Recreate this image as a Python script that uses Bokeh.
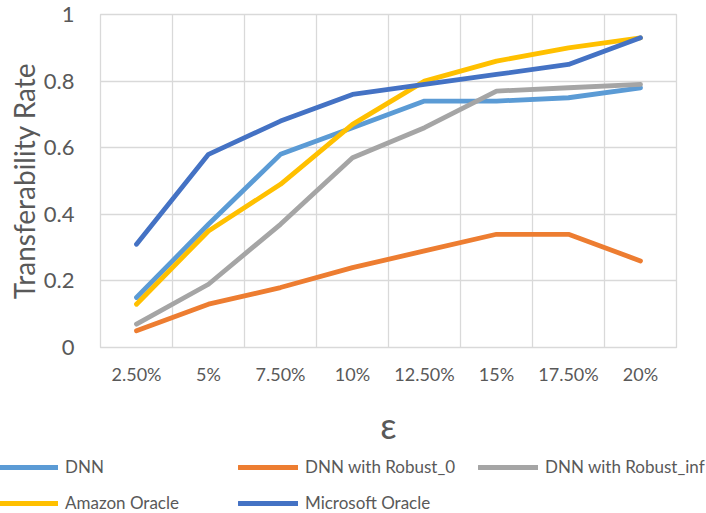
from bokeh.plotting import figure
from bokeh.models import Range1d, FixedTicker, NumeralTickFormatter, Legend, LegendItem
from bokeh.embed import file_html
from bokeh.resources import INLINE

categories = ["2.50%", "5%", "7.50%", "10%", "12.50%", "15%", "17.50%", "20%"]
dnn = [0.15, 0.37, 0.58, 0.66, 0.74, 0.74, 0.75, 0.78]
robust_0 = [0.05, 0.13, 0.18, 0.24, 0.29, 0.34, 0.34, 0.26]
robust_inf = [0.07, 0.19, 0.37, 0.57, 0.66, 0.77, 0.78, 0.79]
amazon = [0.13, 0.35, 0.49, 0.67, 0.80, 0.86, 0.90, 0.93]
microsoft = [0.31, 0.58, 0.68, 0.76, 0.79, 0.82, 0.85, 0.93]
series_names = ["DNN", "DNN with Robust_0", "DNN with Robust_inf", "Amazon Oracle", "Microsoft Oracle"]
series_values = [dnn, robust_0, robust_inf, amazon, microsoft]
colors = ["#5B9BD5", "#ED7D31", "#A5A5A5", "#FFC000", "#4472C4"]
y_ticks = [0, 0.2, 0.4, 0.6, 0.8, 1.0]

FONT = "Lato"
TXT = "#595959"
GRID = "#D9D9D9"
LW = 4.8

xs = [i + 0.5 for i in range(len(categories))]

p = figure(width=706, height=449, output_backend="svg", toolbar_location=None,
           x_range=Range1d(0, len(categories)), y_range=Range1d(0, 1),
           min_border_left=100, min_border_right=30, min_border_top=14, min_border_bottom=102)
p.outline_line_color = GRID
p.outline_line_width = 1.3

for name, vals, c in zip(series_names, series_values, colors):
    p.line(xs, vals, line_color=c, line_width=LW, line_cap="round", line_join="round")

# axes
p.xaxis.ticker = FixedTicker(ticks=xs)
p.xaxis.major_label_overrides = {x: c for x, c in zip(xs, categories)}
p.yaxis.ticker = FixedTicker(ticks=y_ticks)
p.yaxis.formatter = NumeralTickFormatter(format="0.[0]")
for ax in (p.xaxis[0], p.yaxis[0]):
    ax.axis_line_color = None
    ax.major_tick_line_color = None
    ax.minor_tick_line_color = None
    ax.major_tick_out = 0
    ax.major_tick_in = 0
    ax.major_label_text_font = FONT
    ax.major_label_text_color = TXT
    ax.axis_label_text_font = FONT
    ax.axis_label_text_color = TXT
    ax.axis_label_text_font_style = "normal"

p.xaxis.major_label_text_font_size = "18px"
p.xaxis.major_label_standoff = 15
p.xaxis.axis_label = "ε"
p.xaxis.axis_label_text_font_size = "36px"
p.xaxis.axis_label_standoff = 15

p.yaxis.major_label_text_font_size = "22px"
p.yaxis.major_label_standoff = 26
p.yaxis.axis_label = "Transferability Rate"
p.yaxis.axis_label_text_font_size = "28px"
p.yaxis.axis_label_standoff = 0

# grid
p.xgrid.ticker = FixedTicker(ticks=list(range(len(categories) + 1)))
p.xgrid.grid_line_color = GRID
p.xgrid.grid_line_width = 1.3
p.ygrid.ticker = FixedTicker(ticks=y_ticks)
p.ygrid.grid_line_color = GRID
p.ygrid.grid_line_width = 1.3

# legend strip below the chart (its series sit outside its view; only the keys show)
lg = figure(width=706, height=64, output_backend="svg", toolbar_location=None,
            x_axis_type=None, y_axis_type=None,
            x_range=Range1d(0, len(categories)), y_range=Range1d(5, 6),
            min_border_left=0, min_border_right=0, min_border_top=0, min_border_bottom=0)
lg.outline_line_color = None
lg.grid.visible = False
keys = [lg.line(xs, vals, line_color=c, line_width=LW, line_cap="round")
        for vals, c in zip(series_values, colors)]


def make_legend(idx, vy):
    items = [LegendItem(label=series_names[i], renderers=[keys[i]]) for i in idx]
    return Legend(items=items, orientation="horizontal", location=(-2, vy),
                  glyph_width=60, glyph_height=20, label_standoff=7, label_width=173,
                  label_height=20, spacing=0, padding=0, margin=0,
                  border_line_color=None, background_fill_alpha=0,
                  label_text_font=FONT, label_text_font_size="17px", label_text_color=TXT)


lg.add_layout(make_legend([0, 1, 2], 36))
lg.add_layout(make_legend([3, 4], 0))

open("out.html", "w").write(file_html([p, lg], INLINE))
